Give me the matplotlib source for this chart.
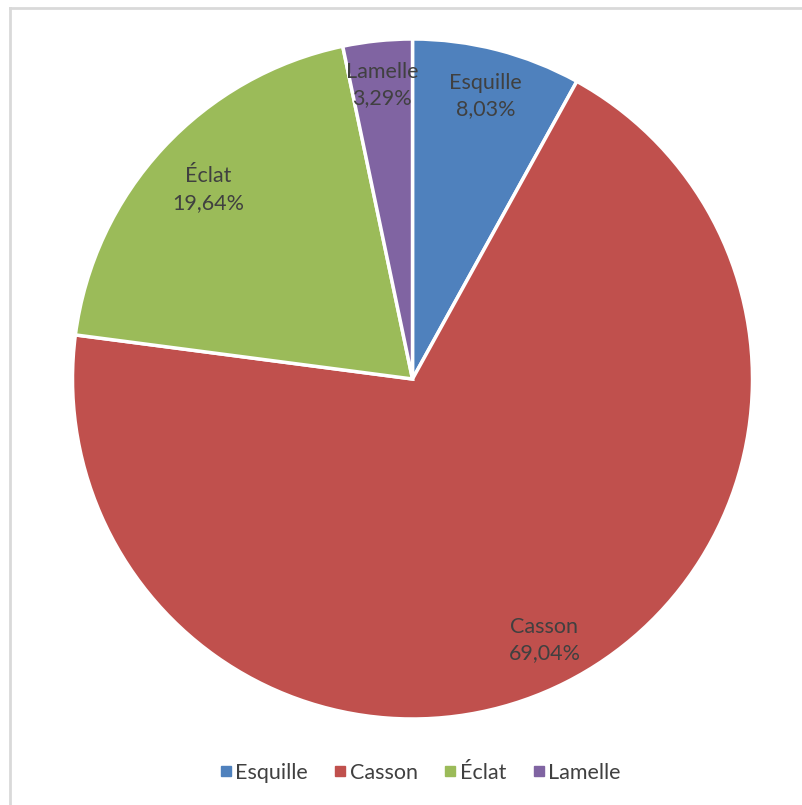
import numpy as np
import matplotlib.pyplot as plt
from matplotlib.lines import Line2D

categories = ["Esquille", "Casson", "Éclat", "Lamelle"]
values = [8.03, 69.04, 19.64, 3.29]
colors = ["#4F81BD", "#C0504D", "#9BBB59", "#8064A2"]
label_texts = ["8,03%", "69,04%", "19,64%", "3,29%"]

plt.rcParams['font.family'] = ['Lato', 'DejaVu Sans']
text_color = "#404040"

W, H = 803, 805
fig = plt.figure(figsize=(W / 100, H / 100), dpi=100)

# Chart frame (top and left edges)
fig.add_artist(Line2D([10 / W, 1], [1 - 8 / H, 1 - 8 / H], color="#D9D9D9", lw=2))
fig.add_artist(Line2D([10 / W, 10 / W], [0, 1 - 8 / H], color="#D9D9D9", lw=2))

cx, cy, r = 412.5, 379, 340
ax = fig.add_axes([(cx - r) / W, 1 - (cy + r) / H, 2 * r / W, 2 * r / H])
wedges, _ = ax.pie(values, colors=colors, startangle=90, counterclock=False,
                   radius=1.0, wedgeprops=dict(edgecolor="white", linewidth=2.5))
ax.set_xlim(-1, 1)
ax.set_ylim(-1, 1)
ax.set_aspect('equal')
ax.axis('off')

label_r = [0.86, 0.86, 0.82, 0.87]
for w, cat, lab, lr in zip(wedges, categories, label_texts, label_r):
    mid = np.deg2rad((w.theta1 + w.theta2) / 2)
    x, y = lr * np.cos(mid), lr * np.sin(mid)
    ax.text(x, y, f"{cat}\n{lab}", ha="center", va="center", fontsize=15.5,
            color=text_color, linespacing=1.4)

handles = [plt.Line2D([], [], marker="s", linestyle="none", markersize=7,
                      markerfacecolor=c, markeredgecolor=c) for c in colors]
fig.legend(handles, categories, loc="center", bbox_to_anchor=(420 / W, 1 - 773 / H),
           ncol=4, frameon=False, fontsize=15.5, labelcolor=text_color,
           handletextpad=0.15, columnspacing=1.2, handlelength=0.6)

fig.savefig("out.png", dpi=100, facecolor="white")
